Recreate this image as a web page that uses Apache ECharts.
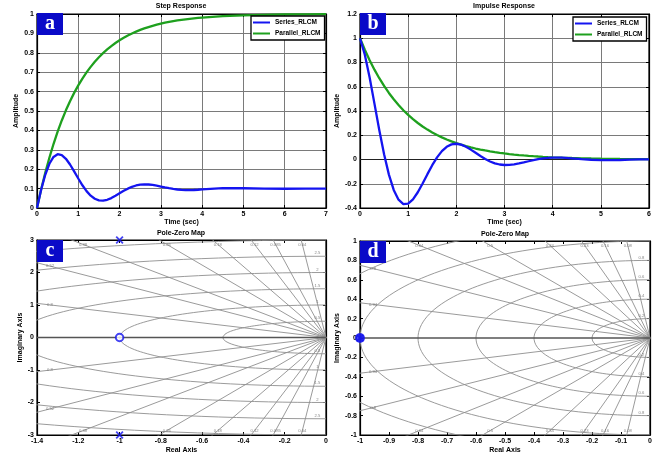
<!DOCTYPE html>
<html><head><meta charset="utf-8">
<script src="https://cdn.jsdelivr.net/npm/echarts/dist/echarts.min.js"></script>
<style>html,body{margin:0;padding:0;background:#fff}#c{width:670px;height:456px}</style>
</head><body><div id="c"></div>
<script>
// ---- data ----
const stepTime = [0,0.1,0.2,0.3,0.4,0.5,0.6,0.7,0.8,0.9,1,1.1,1.2,1.3,1.4,1.5,1.6,1.7,1.8,1.9,2,2.1,2.2,2.3,2.4,2.5,2.6,2.7,2.8,2.9,3,3.1,3.2,3.3,3.4,3.5,3.6,3.7,3.8,3.9,4,4.5,5,5.5,6,6.5,7];
const stepSeries = [0,0.0938,0.1711,0.2280,0.2631,0.2772,0.2728,0.2537,0.2242,0.1889,0.1520,0.1171,0.0870,0.0636,0.0476,0.0393,0.0379,0.0424,0.0512,0.0628,0.0757,0.0884,0.0998,0.1092,0.1161,0.1203,0.1219,0.1212,0.1187,0.1151,0.1107,0.1061,0.1019,0.0982,0.0954,0.0935,0.0925,0.0924,0.0929,0.0941,0.0955,0.1020,0.1018,0.0994,0.0993,0.1002,0.1003];
const stepParallel = [0,0.0952,0.1813,0.2592,0.3297,0.3935,0.4512,0.5034,0.5507,0.5934,0.6321,0.6671,0.6988,0.7275,0.7534,0.7769,0.7981,0.8173,0.8347,0.8504,0.8647,0.8775,0.8892,0.8997,0.9093,0.9179,0.9257,0.9328,0.9392,0.9450,0.9502,0.9550,0.9592,0.9631,0.9666,0.9698,0.9727,0.9753,0.9776,0.9798,0.9817,0.9889,0.9933,0.9959,0.9975,0.9985,0.9991];
const impulseTime = [0,0.1,0.2,0.3,0.4,0.5,0.6,0.7,0.8,0.9,1,1.1,1.2,1.3,1.4,1.5,1.6,1.7,1.8,1.9,2,2.1,2.2,2.3,2.4,2.5,2.6,2.7,2.8,2.9,3,3.1,3.2,3.3,3.4,3.5,3.6,3.7,3.8,3.9,4,4.2,4.4,4.6,4.8,5,5.2,5.4,5.6,5.8,6];
const impulseSeries = [1,0.8644,0.6757,0.4605,0.2429,0.0429,-0.1247,-0.2507,-0.3313,-0.3676,-0.3642,-0.3287,-0.2701,-0.1978,-0.1209,-0.0470,0.0177,0.0691,0.1049,0.1249,0.1299,0.1225,0.1053,0.0818,0.0552,0.0285,0.0040,-0.0164,-0.0316,-0.0412,-0.0454,-0.0447,-0.0402,-0.0328,-0.0239,-0.0144,-0.0053,0.0026,0.0088,0.0131,0.0154,0.0150,0.0099,0.0033,-0.0021,-0.0051,-0.0055,-0.0040,-0.0017,0.0004,0.0016];
const impulseParallel = [1,0.9048,0.8187,0.7408,0.6703,0.6065,0.5488,0.4966,0.4493,0.4066,0.3679,0.3329,0.3012,0.2725,0.2466,0.2231,0.2019,0.1827,0.1653,0.1496,0.1353,0.1225,0.1108,0.1003,0.0907,0.0821,0.0743,0.0672,0.0608,0.0550,0.0498,0.0450,0.0408,0.0369,0.0334,0.0302,0.0273,0.0247,0.0224,0.0202,0.0183,0.0150,0.0123,0.0101,0.0082,0.0067,0.0055,0.0045,0.0037,0.0030,0.0025];
const seriesPoles = [[-1,3],[-1,-3]];
const seriesZeros = [[-1,0]];
const parallelPoles = [[-1,0]];
const parallelZeros = [[-1,0]];
const dampingC = [0.04,0.085,0.12,0.18,0.26,0.38,0.52,0.8];
const freqC = [0.5,1,1.5,2,2.5,3];
const dampingD = [0.08,0.16,0.23,0.34,0.5,0.64,0.8,0.94];
const freqD = [0.2,0.4,0.6,0.8,1,1.2];
const seriesNames = ['Series_RLCM','Parallel_RLCM'];

// ---- build ----
const BLUE = '#1414f0', GREEN = '#1ea01e';
const lab = {fontFamily:'Liberation Sans', fontWeight:'bold', fontSize:7, color:'#000'};
const zip = (a,b) => a.map((v,i)=>[v,b[i]]);

function xAx(g,min,max,iv,name,gap,split){
  return {type:'value',gridIndex:g,min,max,interval:iv,name,nameLocation:'middle',nameGap:gap,
    nameTextStyle:Object.assign({},lab),
    axisLine:{show:true,onZero:false,lineStyle:{color:'#000',width:1.2}},
    axisTick:{show:true,inside:true,length:3,lineStyle:{color:'#000'}},
    axisLabel:Object.assign({margin:3},lab),
    splitLine:{show:split,lineStyle:{color:'#7a7a7a',width:1}}};
}
function mirror(g,min,max,iv,pos){
  return {type:'value',gridIndex:g,min,max,interval:iv,position:pos,
    axisLine:{show:true,onZero:false,lineStyle:{color:'#000',width:1.2}},
    axisTick:{show:true,inside:true,length:3,lineStyle:{color:'#000'}},
    axisLabel:{show:false},splitLine:{show:false}};
}

const xAxis = [
  xAx(0,0,7,1,'Time (sec)',11,true),
  xAx(1,0,6,1,'Time (sec)',11,true),
  xAx(2,-1.4,0,0.2,'Real Axis',12,false),
  xAx(3,-1,0,0.1,'Real Axis',12,false),
  mirror(0,0,7,1,'top'), mirror(1,0,6,1,'top'), mirror(2,-1.4,0,0.2,'top'), mirror(3,-1,0,0.1,'top')
];
const yAxis = [
  xAx(0,0,1,0.1,'Amplitude',17,true),
  xAx(1,-0.4,1.2,0.2,'Amplitude',19,true),
  xAx(2,-3,3,1,'Imaginary Axis',13,false),
  xAx(3,-1,1,0.2,'Imaginary Axis',19,false),
  mirror(0,0,1,0.1,'right'), mirror(1,-0.4,1.2,0.2,'right'), mirror(2,-3,3,1,'right'), mirror(3,-1,1,0.2,'right')
];

const series = [];
function resp(ax, t, s, p){
  series.push({type:'line',name:seriesNames[0],xAxisIndex:ax,yAxisIndex:ax,data:zip(t,s),symbol:'none',
    lineStyle:{color:BLUE,width:2.3},itemStyle:{color:BLUE},z:5});
  series.push({type:'line',name:seriesNames[1],xAxisIndex:ax,yAxisIndex:ax,data:zip(t,p),symbol:'none',
    lineStyle:{color:GREEN,width:2.3},itemStyle:{color:GREEN},z:4});
}
resp(0, stepTime, stepSeries, stepParallel);
resp(1, impulseTime, impulseSeries, impulseParallel);
series.push({type:'line',xAxisIndex:1,yAxisIndex:1,data:[[0,0],[6,0]],symbol:'none',silent:true,
  lineStyle:{color:'#222',width:1},z:3});

function pzGrid(ax, xmin, ymax, zetas, freqs){
  const gl = {color:'#8e8e8e',width:0.9};
  const labels = [];
  series.push({type:'line',xAxisIndex:ax,yAxisIndex:ax,data:[[xmin,0],[0,0]],symbol:'none',silent:true,
    lineStyle:{color:'#555',width:1.3},z:2});
  zetas.forEach(z=>{
    const s = Math.sqrt(1-z*z);
    [1,-1].forEach(sg=>{
      series.push({type:'line',xAxisIndex:ax,yAxisIndex:ax,data:[[0,0],[-z*20,sg*s*20]],symbol:'none',silent:true,
        lineStyle:gl,z:1});
      const tHit = Math.min(ymax/s, -xmin/z)*0.955;
      labels.push([-z*tHit, sg*s*tHit, String(z)]);
    });
  });
  freqs.forEach(r=>{
    const pts = [];
    for(let i=0;i<=90;i++){ const th = Math.PI/2 + Math.PI*i/90; pts.push([r*Math.cos(th), r*Math.sin(th)]); }
    series.push({type:'line',xAxisIndex:ax,yAxisIndex:ax,data:pts,symbol:'none',silent:true,lineStyle:gl,z:1});
    if (r < ymax*0.99){
      labels.push([xmin*0.03, r+ymax*0.03, String(r)]);
      labels.push([xmin*0.03, -r+ymax*0.03, String(r)]);
    }
  });
  series.push({type:'scatter',xAxisIndex:ax,yAxisIndex:ax,data:labels,symbolSize:0,silent:true,z:3,
    label:{show:true,position:'inside',formatter:p=>p.data[2],fontFamily:'Liberation Sans',fontSize:4.2,color:'#666'}});
}
pzGrid(2,-1.4,3,dampingC,freqC);
pzGrid(3,-1,1,dampingD,freqD);

const XSYM = 'path://M0,1.6L1.6,0L5,3.4L8.4,0L10,1.6L6.6,5L10,8.4L8.4,10L5,6.6L1.6,10L0,8.4L3.4,5Z';
function pzMarks(ax, poles, zeros, fillZero){
  series.push({type:'scatter',xAxisIndex:ax,yAxisIndex:ax,data:zeros,symbol:'circle',symbolSize:fillZero?8:7.5,clip:false,z:10,
    itemStyle:{color:fillZero?BLUE:'#fff',borderColor:BLUE,borderWidth:2}});
  series.push({type:'scatter',xAxisIndex:ax,yAxisIndex:ax,data:poles,symbol:XSYM,symbolSize:8,clip:false,z:11,
    itemStyle:{color:BLUE}});
}
pzMarks(2, seriesPoles, seriesZeros, false);
pzMarks(3, parallelPoles, parallelZeros, true);

function legend(left, top){
  return {left, top, orient:'vertical', data:seriesNames, icon:'rect', itemWidth:17, itemHeight:2, itemGap:4,
    padding:[3,4,3,2], borderColor:'#000', borderWidth:1.3, backgroundColor:'#fff',
    textStyle:Object.assign({},lab,{fontSize:6.5}), selectedMode:false, z:20};
}

const graphic = [];
[['a',37,13],['b',360,13],['c',37,240],['d',360,241]].forEach(([t,x,y])=>{
  graphic.push({type:'rect',shape:{x,y,width:26,height:22},style:{fill:'#0a0ac8'},z:100});
  graphic.push({type:'text',x:x+13,y:y+11,style:{text:t,fill:'#fff',align:'center',verticalAlign:'middle',
    font:'bold 20px "Liberation Serif"'},z:101});
});
[['Step Response',181,6],['Impulse Response',504,6],['Pole-Zero Map',181,233],['Pole-Zero Map',505,234]].forEach(([t,x,y])=>{
  graphic.push({type:'text',x,y,style:{text:t,fill:'#000',align:'center',verticalAlign:'middle',
    font:'bold 7px "Liberation Sans"'},z:100});
});

const chart = echarts.init(document.getElementById('c'),null,{renderer:'canvas'});
chart.setOption({
  animation:false,
  backgroundColor:'#fff',
  grid:[
    {left:37,top:14,width:289,height:194,show:true,borderColor:'#000',borderWidth:1.2,backgroundColor:'#fff'},
    {left:360,top:14,width:289,height:194,show:true,borderColor:'#000',borderWidth:1.2,backgroundColor:'#fff'},
    {left:37,top:240,width:289,height:195,show:true,borderColor:'#000',borderWidth:1.2,backgroundColor:'#fff'},
    {left:360,top:241,width:290,height:194,show:true,borderColor:'#000',borderWidth:1.2,backgroundColor:'#fff'}
  ],
  xAxis, yAxis, series,
  legend:[legend(251,16), legend(573,17)],
  graphic
});
</script></body></html>
